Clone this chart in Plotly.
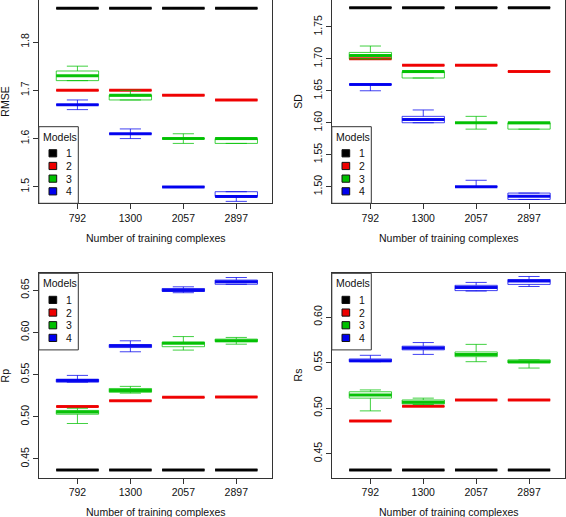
import plotly.graph_objects as go

# ---------------- data ----------------
categories = ["792", "1300", "2057", "2897"]
models = ["1", "2", "3", "4"]
colors = ["#000000", "#ee0000", "#00c000", "#0000ee"]

# each entry per category: (lower whisker, q1, median, q3, upper whisker)
rmse_m1 = [(1.87, 1.87, 1.87, 1.87, 1.87)] * 4
rmse_m2 = [(1.70, 1.70, 1.70, 1.70, 1.70), (1.70, 1.70, 1.70, 1.70, 1.70),
           (1.69, 1.69, 1.69, 1.69, 1.69), (1.68, 1.68, 1.68, 1.68, 1.68)]
rmse_m3 = [(1.72, 1.72, 1.73, 1.74, 1.75), (1.68, 1.68, 1.69, 1.69, 1.70),
           (1.59, 1.60, 1.60, 1.60, 1.61), (1.59, 1.59, 1.60, 1.60, 1.60)]
rmse_m4 = [(1.66, 1.67, 1.67, 1.67, 1.68), (1.60, 1.61, 1.61, 1.61, 1.62),
           (1.50, 1.50, 1.50, 1.50, 1.50), (1.47, 1.48, 1.48, 1.49, 1.49)]

sd_m1 = [(1.78, 1.78, 1.78, 1.78, 1.78)] * 4
sd_m2 = [(1.70, 1.70, 1.70, 1.70, 1.70), (1.69, 1.69, 1.69, 1.69, 1.69),
         (1.69, 1.69, 1.69, 1.69, 1.69), (1.68, 1.68, 1.68, 1.68, 1.68)]
sd_m3 = [(1.70, 1.70, 1.705, 1.71, 1.72), (1.67, 1.67, 1.68, 1.68, 1.68),
         (1.59, 1.60, 1.60, 1.60, 1.61), (1.59, 1.59, 1.60, 1.60, 1.60)]
sd_m4 = [(1.65, 1.66, 1.66, 1.66, 1.66), (1.60, 1.60, 1.605, 1.61, 1.62),
         (1.50, 1.50, 1.50, 1.50, 1.51), (1.48, 1.48, 1.485, 1.49, 1.49)]

rp_m1 = [(0.437, 0.437, 0.437, 0.437, 0.437)] * 4
rp_m2 = [(0.512, 0.512, 0.512, 0.512, 0.512), (0.519, 0.519, 0.519, 0.519, 0.519),
         (0.523, 0.523, 0.523, 0.523, 0.523), (0.5235, 0.5235, 0.5235, 0.5235, 0.5235)]
rp_m3 = [(0.492, 0.503, 0.5055, 0.5075, 0.510), (0.528, 0.529, 0.531, 0.5335, 0.536),
         (0.579, 0.583, 0.587, 0.5885, 0.595), (0.586, 0.589, 0.590, 0.592, 0.594)]
rp_m4 = [(0.541, 0.541, 0.543, 0.5445, 0.549), (0.577, 0.582, 0.584, 0.5855, 0.590),
         (0.647, 0.6485, 0.650, 0.652, 0.654), (0.657, 0.657, 0.660, 0.662, 0.665)]

rs_m1 = [(0.432, 0.432, 0.432, 0.432, 0.432)] * 4
rs_m2 = [(0.486, 0.486, 0.486, 0.486, 0.486), (0.502, 0.502, 0.502, 0.502, 0.502),
         (0.509, 0.509, 0.509, 0.509, 0.509), (0.509, 0.509, 0.509, 0.509, 0.509)]
rs_m3 = [(0.497, 0.511, 0.5145, 0.518, 0.520), (0.504, 0.5047, 0.5066, 0.509, 0.511),
         (0.551, 0.5565, 0.559, 0.5617, 0.570), (0.544, 0.5497, 0.551, 0.553, 0.553)]
rs_m4 = [(0.551, 0.551, 0.552, 0.554, 0.558), (0.559, 0.564, 0.566, 0.568, 0.572),
         (0.6285, 0.629, 0.6325, 0.6348, 0.638), (0.6335, 0.6358, 0.6395, 0.6412, 0.6445)]

rmse_ticks = [1.5, 1.6, 1.7, 1.8]
rmse_ticktext = ["1.5", "1.6", "1.7", "1.8"]
sd_ticks = [1.50, 1.55, 1.60, 1.65, 1.70, 1.75]
sd_ticktext = ["1.50", "1.55", "1.60", "1.65", "1.70", "1.75"]
rp_ticks = [0.45, 0.50, 0.55, 0.60, 0.65]
rp_ticktext = ["0.45", "0.50", "0.55", "0.60", "0.65"]
rs_ticks = [0.45, 0.50, 0.55, 0.60]
rs_ticktext = ["0.45", "0.50", "0.55", "0.60"]

# ---------------- layout geometry (pixels) ----------------
W, H = 566, 517
FONT = "Liberation Sans, Arial, Helvetica, sans-serif"
FS = 10.5


def px(x):
    return x / W


def py(y):
    return 1 - y / H


cols_px = [(39.3, 272.3), (332.3, 565.0)]
rows_px = [(0.0, 203.3), (273.3, 477.5)]

panels = [
    dict(title="RMSE", data=[rmse_m1, rmse_m2, rmse_m3, rmse_m4], rng=[1.466, 1.887],
         ticks=rmse_ticks, ticktext=rmse_ticktext, col=0, row=0, leg="bottom"),
    dict(title="SD", data=[sd_m1, sd_m2, sd_m3, sd_m4], rng=[1.474, 1.792],
         ticks=sd_ticks, ticktext=sd_ticktext, col=1, row=0, leg="bottom"),
    dict(title="Rp", data=[rp_m1, rp_m2, rp_m3, rp_m4], rng=[0.428, 0.670],
         ticks=rp_ticks, ticktext=rp_ticktext, col=0, row=1, leg="top"),
    dict(title="Rs", data=[rs_m1, rs_m2, rs_m3, rs_m4], rng=[0.4239, 0.648],
         ticks=rs_ticks, ticktext=rs_ticktext, col=1, row=1, leg="top"),
]


def rgba(hexc, a):
    h = hexc.lstrip("#")
    r, g, b = int(h[0:2], 16), int(h[2:4], 16), int(h[4:6], 16)
    return f"rgba({r},{g},{b},{a})"


fig = go.Figure()
layout = dict(
    width=W, height=H, margin=dict(l=0, r=0, t=0, b=0),
    paper_bgcolor="white", plot_bgcolor="white",
    showlegend=False, boxmode="overlay",
    font=dict(family=FONT, size=FS, color="#111111"),
)
shapes = []
annotations = []

for i, p in enumerate(panels):
    n = "" if i == 0 else str(i + 1)
    xa, ya = "x" + n, "y" + n
    x0, x1 = cols_px[p["col"]]
    y0, y1 = rows_px[p["row"]]
    for m, stats in enumerate(p["data"]):
        lo = [s[0] for s in stats]
        q1 = [s[1] for s in stats]
        med = [s[2] for s in stats]
        q3 = [s[3] for s in stats]
        hi = [s[4] for s in stats]
        # box, whiskers and staples (thin)
        fig.add_trace(go.Box(
            x=categories, q1=q1, median=med, q3=q3, lowerfence=lo, upperfence=hi,
            width=0.8, whiskerwidth=0.5, boxpoints=False,
            line=dict(color=rgba(colors[m], 0.75), width=1),
            fillcolor="rgba(0,0,0,0)", xaxis=xa, yaxis=ya, hoverinfo="skip",
            name=models[m]))
        # thick median line
        fig.add_trace(go.Box(
            x=categories, q1=med, median=med, q3=med, lowerfence=med, upperfence=med,
            width=0.8, whiskerwidth=0.5, boxpoints=False,
            line=dict(color=rgba(colors[m], 0.95), width=3),
            fillcolor="rgba(0,0,0,0)", xaxis=xa, yaxis=ya, hoverinfo="skip",
            name=models[m]))

    layout["xaxis" + n] = dict(
        domain=[px(x0), px(x1)], anchor=ya, type="category",
        categoryorder="array", categoryarray=categories,
        range=[-0.72, 3.68], showgrid=False, zeroline=False,
        showline=True, linecolor="#333333", linewidth=1,
        mirror=(p["row"] == 1),
        ticks="outside", ticklen=5, tickcolor="#333333",
        tickfont=dict(family=FONT, size=FS, color="#111111"))
    layout["yaxis" + n] = dict(
        domain=[py(y1), py(y0)], anchor=xa, range=p["rng"],
        tickvals=p["ticks"], ticktext=p["ticktext"], tickangle=-90,
        showgrid=False, zeroline=False,
        showline=True, linecolor="#333333", linewidth=1, mirror=True,
        ticks="outside", ticklen=5, tickcolor="#333333",
        tickfont=dict(family=FONT, size=FS, color="#111111"))

    # axis titles
    annotations.append(dict(
        text="Number of training complexes", xref="paper", yref="paper",
        x=px((x0 + x1) / 2), y=py(y1 + 34.5), xanchor="center", yanchor="middle",
        showarrow=False, font=dict(family=FONT, size=FS, color="#111111")))
    annotations.append(dict(
        text=p["title"], xref="paper", yref="paper", textangle=-90,
        x=px(x0 - 34.3), y=py((y0 + y1) / 2), xanchor="center", yanchor="middle",
        showarrow=False, font=dict(family=FONT, size=FS, color="#111111")))

    # legend box
    lw, lh = 39.5, 76.6
    lx = x0 - 0.5
    ly = (y1 - lh) if p["leg"] == "bottom" else y0
    shapes.append(dict(type="rect", xref="paper", yref="paper",
                       x0=px(lx), x1=px(lx + lw), y0=py(ly), y1=py(ly + lh),
                       line=dict(color="#333333", width=1), fillcolor="white",
                       layer="above"))
    annotations.append(dict(
        text="Models", xref="paper", yref="paper", x=px(lx + 2.6), y=py(ly + 10),
        xanchor="left", yanchor="middle", showarrow=False,
        font=dict(family=FONT, size=FS, color="#111111")))
    for k in range(4):
        cy = ly + 26.6 + 12.67 * k
        shapes.append(dict(type="rect", xref="paper", yref="paper",
                           x0=px(lx + 10.2), x1=px(lx + 17.9),
                           y0=py(cy - 3.6), y1=py(cy + 3.6),
                           line=dict(color="#111111", width=1),
                           fillcolor=colors[k], layer="above"))
        annotations.append(dict(
            text=models[k], xref="paper", yref="paper", x=px(lx + 30.2), y=py(cy),
            xanchor="center", yanchor="middle", showarrow=False,
            font=dict(family=FONT, size=FS, color="#111111")))

layout["shapes"] = shapes
layout["annotations"] = annotations
fig.update_layout(**layout)
fig.write_html(
    "out.html",
    config={"displayModeBar": False, "staticPlot": True},
    post_script="document.body.style.margin='0';document.body.style.padding='0';"
                "document.body.style.overflow='hidden';",
)
